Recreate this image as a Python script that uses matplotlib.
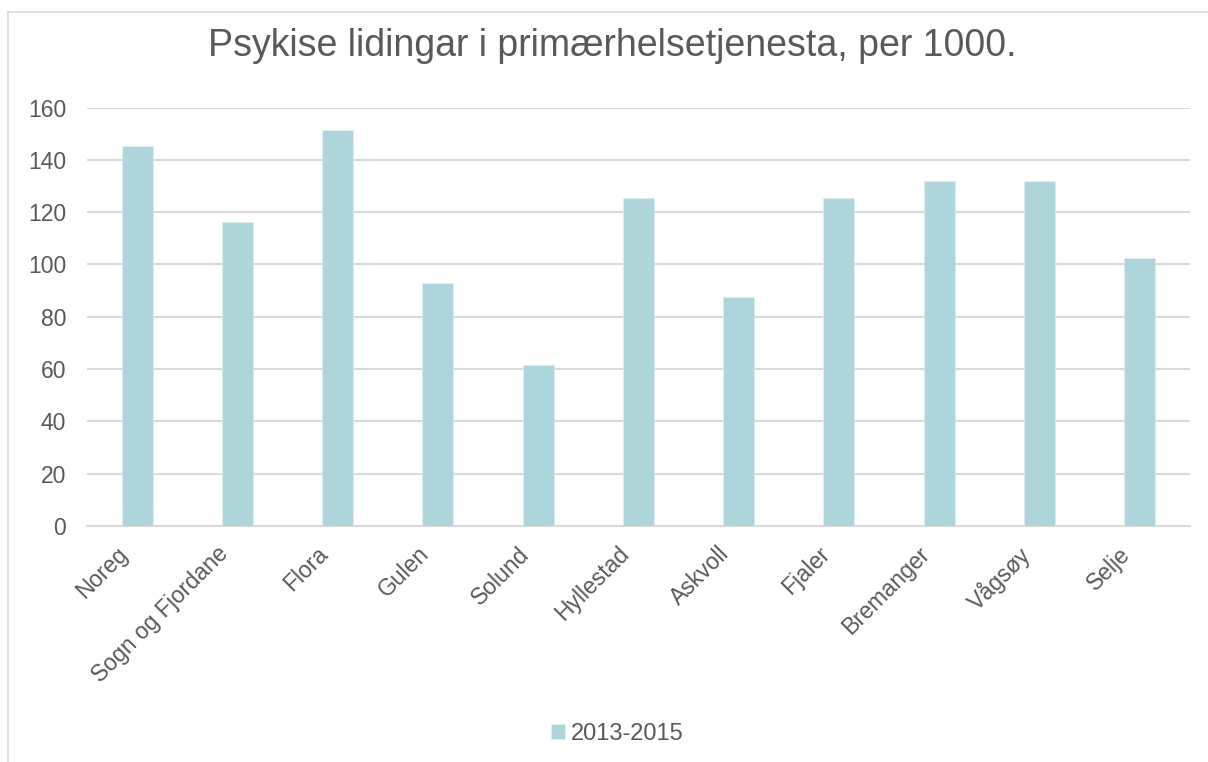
import matplotlib.pyplot as plt
from matplotlib.lines import Line2D
import matplotlib.transforms as mtransforms
import numpy as np

plt.rcParams['font.family'] = ['Liberation Sans', 'DejaVu Sans']

categories = ["Noreg", "Sogn og Fjordane", "Flora", "Gulen", "Solund", "Hyllestad",
              "Askvoll", "Fjaler", "Bremanger", "Vågsøy", "Selje"]
values = [145.5, 116.4, 151.6, 93.0, 61.5, 125.4, 87.5, 125.4, 131.8, 131.8, 102.6]
series_name = "2013-2015"
title = "Psykise lidingar i primærhelsetjenesta, per 1000."
yticks = [0, 20, 40, 60, 80, 100, 120, 140, 160]

bar_color = "#AED4DC"
text_color = "#595959"
grid_color = "#D9D9D9"

fig = plt.figure(figsize=(12.08, 7.62), dpi=100)
ax = fig.add_axes([0.072, 0.310, 0.913, 0.5487])

x = np.arange(len(categories))
ax.bar(x, values, width=0.31, color=bar_color, edgecolor="#DDEEF1", linewidth=0.6,
       label=series_name, zorder=3)

ax.set_xlim(-0.5, len(categories) - 0.5)
ax.set_ylim(0, 160)
ax.set_yticks(yticks)
ax.yaxis.grid(True, color=grid_color, linewidth=1.5, zorder=0)
ax.set_axisbelow(True)
for s in ["top", "right", "left"]:
    ax.spines[s].set_visible(False)
ax.spines["bottom"].set_color(grid_color)
ax.spines["bottom"].set_linewidth(1.5)
ax.tick_params(axis="both", length=0, colors=text_color, labelsize=16.5)
ax.tick_params(axis="y", pad=15)
ax.set_xticks(x)
ax.set_xticklabels(categories, rotation=45, ha="right", rotation_mode="anchor")
ax.tick_params(axis="x", pad=12)
shift = mtransforms.ScaledTranslation(-21 / 100, 0, fig.dpi_scale_trans)
for lbl in ax.get_xticklabels():
    lbl.set_transform(lbl.get_transform() + shift)

fig.text(0.507, 0.94, title, ha="center", va="center", fontsize=27, color=text_color)

leg = fig.legend(loc="center", bbox_to_anchor=(0.511, 0.037), frameon=False,
                 fontsize=17, handlelength=0.6, handleheight=0.6,
                 handletextpad=0.25)
for t in leg.get_texts():
    t.set_color(text_color)

# chart border (top and left only visible)
fig.add_artist(Line2D([8 / 1208, 1.0], [1 - 12 / 762, 1 - 12 / 762],
                      transform=fig.transFigure, color=grid_color, linewidth=1.2))
fig.add_artist(Line2D([8 / 1208, 8 / 1208], [0.0, 1 - 12 / 762],
                      transform=fig.transFigure, color=grid_color, linewidth=1.2))

fig.savefig("out.png", dpi=100)
